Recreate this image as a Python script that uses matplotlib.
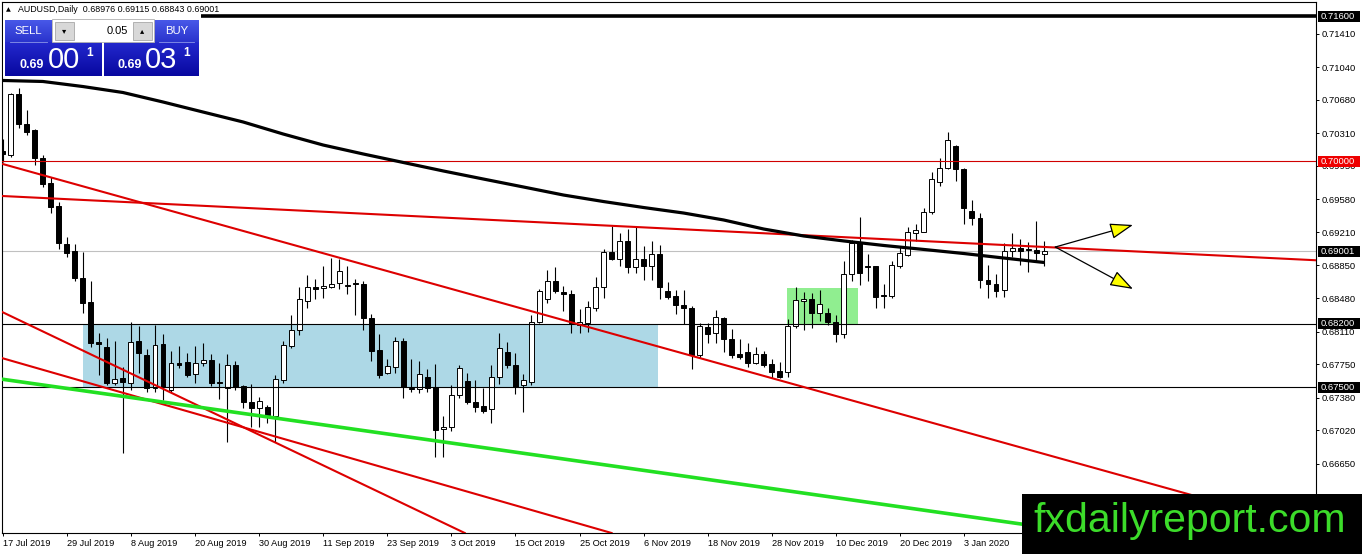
import matplotlib
matplotlib.use("Agg")
import matplotlib.pyplot as plt
import numpy as np
from matplotlib.patches import Rectangle
from matplotlib.transforms import blended_transform_factory
from matplotlib import font_manager

# ---------------- data ----------------
symbol = "AUDUSD,Daily"
bid = 0.69001
ask = 0.69031
lot = "0.05"

date_labels = ["17 Jul 2019", "29 Jul 2019", "8 Aug 2019", "20 Aug 2019", "30 Aug 2019",
               "11 Sep 2019", "23 Sep 2019", "3 Oct 2019", "15 Oct 2019", "25 Oct 2019",
               "6 Nov 2019", "18 Nov 2019", "28 Nov 2019", "10 Dec 2019", "20 Dec 2019",
               "3 Jan 2020"]
label_step = 8

opens = [0.70114, 0.70067, 0.70741, 0.70410, 0.70343, 0.70033, 0.69757, 0.69503, 0.69083, 0.69005,
         0.68706, 0.68441, 0.67999, 0.67943, 0.67545, 0.67600, 0.67545, 0.68010, 0.67855, 0.67490,
         0.67976, 0.67468, 0.67770, 0.67777, 0.67645, 0.67766, 0.67799, 0.67556, 0.67490, 0.67744,
         0.67512, 0.67335, 0.67268, 0.67279, 0.67180, 0.67578, 0.67954, 0.68131, 0.68452, 0.68607,
         0.68596, 0.68607, 0.68651, 0.68618, 0.68651, 0.68640, 0.68264, 0.67910, 0.67656, 0.67722,
         0.68010, 0.67490, 0.67479, 0.67612, 0.67501, 0.67036, 0.67059, 0.67412, 0.67567, 0.67335,
         0.67290, 0.67257, 0.67612, 0.67888, 0.67744, 0.67523, 0.67556, 0.68220, 0.68474, 0.68673,
         0.68552, 0.68529, 0.68186, 0.68209, 0.68374, 0.68607, 0.68994, 0.68916, 0.69116, 0.68828,
         0.68916, 0.68839, 0.68972, 0.68563, 0.68507, 0.68408, 0.68374, 0.67855, 0.68164, 0.68098,
         0.68264, 0.68032, 0.67866, 0.67888, 0.67766, 0.67866, 0.67755, 0.67678, 0.67667, 0.68175,
         0.68452, 0.68474, 0.68319, 0.68319, 0.68220, 0.68087, 0.68750, 0.69094, 0.68839, 0.68839,
         0.68507, 0.68507, 0.68839, 0.68961, 0.69204, 0.69215, 0.69436, 0.69768, 0.69923, 0.70166,
         0.69912, 0.69447, 0.69370, 0.68684, 0.68640, 0.68574, 0.69005, 0.69038, 0.69027, 0.69016,
         0.68976]
highs = [0.70244, 0.70758, 0.70808, 0.70564, 0.70354, 0.70067, 0.69823, 0.69547, 0.69160, 0.69083,
         0.68994, 0.68673, 0.68098, 0.68043, 0.68010, 0.67722, 0.68220, 0.68175, 0.67921, 0.68186,
         0.68087, 0.67899, 0.67954, 0.67877, 0.67954, 0.67987, 0.67866, 0.67766, 0.67866, 0.67788,
         0.67523, 0.67534, 0.67390, 0.67301, 0.67634, 0.68010, 0.68297, 0.68607, 0.68739, 0.68695,
         0.68839, 0.68928, 0.68916, 0.68839, 0.68695, 0.68673, 0.68308, 0.68087, 0.67810, 0.68054,
         0.68043, 0.67810, 0.67788, 0.67700, 0.67755, 0.67180, 0.67523, 0.67744, 0.67656, 0.67578,
         0.67490, 0.67744, 0.68098, 0.67999, 0.67877, 0.67645, 0.68297, 0.68585, 0.68795, 0.68828,
         0.68618, 0.68574, 0.68364, 0.68452, 0.68717, 0.69027, 0.69282, 0.69204, 0.69248, 0.69270,
         0.69060, 0.69116, 0.69071, 0.68662, 0.68574, 0.68574, 0.68397, 0.68209, 0.68209, 0.68352,
         0.68275, 0.68142, 0.68032, 0.67987, 0.67943, 0.67899, 0.67810, 0.67777, 0.68253, 0.68607,
         0.68552, 0.68540, 0.68574, 0.68374, 0.68297, 0.68894, 0.69127, 0.69381, 0.68972, 0.68839,
         0.68640, 0.68894, 0.69049, 0.69270, 0.69303, 0.69480, 0.69879, 0.70034, 0.70321, 0.70177,
         0.69923, 0.69569, 0.69425, 0.68850, 0.68750, 0.69094, 0.69204, 0.69138, 0.69105, 0.69337,
         0.69115]
lows = [0.69989, 0.70045, 0.70365, 0.70288, 0.69956, 0.69713, 0.69425, 0.69027, 0.68939, 0.68673,
        0.68319, 0.67943, 0.67634, 0.67523, 0.67523, 0.66771, 0.67468, 0.67656, 0.67446, 0.67446,
        0.67357, 0.67446, 0.67711, 0.67612, 0.67545, 0.67733, 0.67512, 0.67368, 0.66893, 0.67468,
        0.67268, 0.67059, 0.67059, 0.67103, 0.66893, 0.67545, 0.67932, 0.68076, 0.68374, 0.68474,
        0.68485, 0.68596, 0.68585, 0.68529, 0.68297, 0.68131, 0.67788, 0.67600, 0.67645, 0.67656,
        0.67379, 0.67446, 0.67435, 0.67446, 0.66727, 0.66727, 0.67014, 0.67379, 0.67313, 0.67224,
        0.67213, 0.67103, 0.67534, 0.67711, 0.67423, 0.67224, 0.67523, 0.68209, 0.68430, 0.68540,
        0.68341, 0.68098, 0.68098, 0.68109, 0.68341, 0.68485, 0.68905, 0.68839, 0.68762, 0.68762,
        0.68684, 0.68684, 0.68474, 0.68474, 0.68308, 0.68198, 0.67700, 0.67822, 0.67987, 0.67987,
        0.67888, 0.67822, 0.67810, 0.67722, 0.67755, 0.67722, 0.67600, 0.67600, 0.67612, 0.68153,
        0.68131, 0.68153, 0.68231, 0.68186, 0.67999, 0.68043, 0.68673, 0.68629, 0.68673, 0.68374,
        0.68374, 0.68485, 0.68817, 0.68950, 0.69116, 0.69215, 0.69414, 0.69724, 0.69912, 0.69779,
        0.69303, 0.69292, 0.68596, 0.68485, 0.68496, 0.68496, 0.68939, 0.68850, 0.68773, 0.68894,
        0.68843]
closes = [0.70078, 0.70741, 0.70410, 0.70325, 0.70033, 0.69746, 0.69492, 0.69094, 0.68983, 0.68706,
          0.68430, 0.67987, 0.67976, 0.67545, 0.67589, 0.67556, 0.67999, 0.67877, 0.67490, 0.67965,
          0.67501, 0.67766, 0.67744, 0.67634, 0.67766, 0.67799, 0.67545, 0.67540, 0.67744, 0.67501,
          0.67335, 0.67268, 0.67346, 0.67191, 0.67589, 0.67965, 0.68131, 0.68474, 0.68607, 0.68590,
          0.68618, 0.68640, 0.68784, 0.68629, 0.68645, 0.68264, 0.67899, 0.67634, 0.67733, 0.68010,
          0.67501, 0.67479, 0.67645, 0.67490, 0.67025, 0.67059, 0.67412, 0.67711, 0.67335, 0.67279,
          0.67235, 0.67612, 0.67932, 0.67744, 0.67501, 0.67578, 0.68220, 0.68563, 0.68673, 0.68563,
          0.68529, 0.68209, 0.68220, 0.68386, 0.68607, 0.68994, 0.68916, 0.69116, 0.68828, 0.68916,
          0.68839, 0.68972, 0.68607, 0.68496, 0.68408, 0.68374, 0.67855, 0.68175, 0.68087, 0.68275,
          0.68032, 0.67855, 0.67833, 0.67766, 0.67866, 0.67744, 0.67667, 0.67612, 0.68175, 0.68463,
          0.68474, 0.68319, 0.68419, 0.68220, 0.68087, 0.68750, 0.69094, 0.68762, 0.68828, 0.68496,
          0.68502, 0.68850, 0.68983, 0.69215, 0.69237, 0.69436, 0.69801, 0.69923, 0.70233, 0.69912,
          0.69480, 0.69370, 0.68684, 0.68640, 0.68563, 0.69005, 0.69038, 0.69005, 0.69016, 0.68983,
          0.69001]

ma_bars = [0, 5, 10, 15, 20, 25, 30, 35, 40, 45, 50, 55, 60, 65, 70, 75, 80, 85, 90, 95,
           100, 105, 110, 115, 120, 125, 130]
ma_vals = [0.70891, 0.70880, 0.70824, 0.70758, 0.70653, 0.70542, 0.70432, 0.70299, 0.70177, 0.70078,
           0.69984, 0.69890, 0.69801, 0.69713, 0.69624, 0.69552, 0.69486, 0.69425, 0.69348, 0.69248,
           0.69171, 0.69116, 0.69066, 0.69022, 0.68977, 0.68927, 0.68878]

level_top = 0.71600
level_red = 0.70000
levels_black = [0.68200, 0.67500]

# trend lines: two anchor points (bar, price) each
red_lines = [((0.0, 0.69613), (132.0, 0.69041)),
             ((0.0, 0.69967), (99.53, 0.67512)),
             ((0.0, 0.68327), (33.36, 0.66915)),
             ((0.0, 0.67818), (33.36, 0.66970))]
green_line = ((0.0, 0.67586), (33.36, 0.67166))

zone_blue = (10.0, 81.8, 0.67500, 0.68200)
zone_green = (97.9, 106.8, 0.68187, 0.68599)

arrow_start = (131.4, 0.69049)
arrow_ends = [(141.1, 0.69293), (141.1, 0.68585)]

ytick_vals = [0.71410, 0.71040, 0.70680, 0.70310, 0.69950, 0.69580, 0.69210, 0.68850,
              0.68480, 0.68110, 0.67750, 0.67380, 0.67020, 0.66650, 0.66280]
price_marks = [(0.71600, "black"), (0.70000, "#ee0000"), (0.69001, "black"),
               (0.68200, "black"), (0.67500, "black")]

watermark = "fxdailyreport.com"

# ---------------- figure ----------------
plt.rcParams["font.family"] = ["Liberation Sans", "DejaVu Sans"]
W, H = 1362, 554
fig = plt.figure(figsize=(W / 100, H / 100), dpi=100)
L, R, T, B = 2, 1316, 2, 533
ax = fig.add_axes([L / W, 1 - B / H, (R - L) / W, (B - T) / H])
ax.set_xlim(-0.1, 163.95)
ax.set_ylim(0.65886, 0.71759)

# zones
bx0, bx1, by0, by1 = zone_blue
ax.add_patch(Rectangle((bx0, by0), bx1 - bx0, by1 - by0, fc="#add8e6", ec="none", zorder=1))
gx0, gx1, gy0, gy1 = zone_green
ax.add_patch(Rectangle((gx0, gy0), gx1 - gx0, gy1 - gy0, fc="#90ee90", ec="none", zorder=1))

# bid line
ax.axhline(bid, color="#c0c0c0", lw=0.8, zorder=2)

# candles
x = np.arange(len(opens))
o = np.array(opens); h = np.array(highs); l = np.array(lows); c = np.array(closes)
ax.vlines(x, l, h, color="black", lw=0.8, zorder=3)
bottoms = np.minimum(o, c)
heights = np.maximum(np.abs(c - o), 0.00011)
cols = ["white" if cc > oo else "black" for oo, cc in zip(o, c)]
ax.bar(x, heights, 0.62, bottoms, color=cols, edgecolor="black", linewidth=0.7, zorder=4)

# levels
ax.axhline(level_top, color="black", lw=2.6, zorder=5)
ax.axhline(level_red, color="#d00000", lw=0.8, zorder=5)
for lv in levels_black:
    ax.axhline(lv, color="black", lw=0.8, zorder=5)

# trend lines
for p1, p2 in red_lines:
    ax.axline(p1, p2, color="#dd0000", lw=1.5, zorder=5)
ax.axline(green_line[0], green_line[1], color="#22e022", lw=2.6, zorder=5)

# moving average
ax.plot(ma_bars, ma_vals, color="black", lw=2.3, zorder=6, solid_capstyle="butt")

# arrows
for end in arrow_ends:
    ax.annotate("", xy=end, xytext=arrow_start,
                arrowprops=dict(arrowstyle="-|>,head_length=1.3,head_width=0.45",
                                fc="yellow", ec="black", lw=0.9, mutation_scale=11,
                                shrinkA=0, shrinkB=0), zorder=7)

# axes styling
for s in ax.spines.values():
    s.set_linewidth(0.8)
    s.set_color("black")
ax.yaxis.tick_right()
ax.set_yticks(ytick_vals)
ax.set_yticklabels([f"{v:.5f}" for v in ytick_vals])
ax.tick_params(axis="y", length=2.5, width=0.7, pad=1.5, labelsize=6.8, colors="black")
xt = [i * label_step for i in range(len(date_labels))]
ax.set_xticks(xt)
ax.set_xticklabels(date_labels, ha="left")
ax.tick_params(axis="x", length=2.5, width=0.7, pad=1.5, labelsize=6.6, colors="black")

# highlighted price marks on right axis
bt = blended_transform_factory(ax.transAxes, ax.transData)
axw = R - L
pix_price = (0.71759 - 0.65886) / (B - T)
for val, col in price_marks:
    ax.add_patch(Rectangle((1 + 2 / axw, val - 5.5 * pix_price), 42 / axw, 11 * pix_price,
                           transform=bt, fc=col, ec="none", clip_on=False, zorder=20))
    ax.text(1 + 5 / axw, val, f"{val:.5f}", transform=bt, color="white", fontsize=6.8,
            va="center", ha="left", clip_on=False, zorder=21)

# ---------------- overlay (panel, header, watermark) ----------------
ov = fig.add_axes([0, 0, 1, 1], zorder=10)
ov.set_xlim(0, W)
ov.set_ylim(H, 0)
ov.axis("off")
ov.patch.set_alpha(0)

# header
last = len(opens) - 1
ov.text(6, 10, "\u25B2", fontsize=4.5, va="center", ha="left", family=["DejaVu Sans"])
ov.text(18, 10, f"{symbol}  {opens[last]:.5f} {highs[last]:.5f} {lows[last]:.5f} {closes[last]:.5f}",
        fontsize=6.4, va="center", ha="left")

# white panel background
ov.add_patch(Rectangle((3, 13), 198, 64, fc="white", ec="none"))


def grad_box(x0, y0, x1, y1, top, bottom):
    n = 32
    t = np.linspace(0, 1, n)[:, None]
    arr = (np.array(top)[None, :] * (1 - t) + np.array(bottom)[None, :] * t) / 255.0
    ov.imshow(arr[:, None, :], extent=(x0, x1, y1, y0), aspect="auto", interpolation="bilinear", zorder=2)


lab_top, lab_bot = (72, 88, 232), (42, 52, 205)
pr_top, pr_bot = (35, 40, 205), (8, 8, 160)
grad_box(5, 20, 52, 42, lab_top, lab_bot)
grad_box(154, 20, 199, 42, lab_top, lab_bot)
grad_box(5, 42, 102, 76, pr_top, pr_bot)
grad_box(104, 42, 199, 76, pr_top, pr_bot)
ov.plot([10, 47], [41.5, 41.5], color="#8a95e8", lw=0.6, zorder=3)
ov.plot([159, 194], [41.5, 41.5], color="#8a95e8", lw=0.6, zorder=3)

# lot box
ov.add_patch(Rectangle((52, 19), 102, 23, fc="white", ec="#b0b0b0", lw=0.6, zorder=2))
ov.add_patch(Rectangle((54.5, 21.5), 19, 18.5, fc="#d8d8d8", ec="#a8a8a8", lw=0.6, zorder=3))
ov.add_patch(Rectangle((132.5, 21.5), 19.5, 18.5, fc="#d8d8d8", ec="#a8a8a8", lw=0.6, zorder=3))
ov.text(64, 30.5, "\u25BE", fontsize=6, va="center", ha="center", family=["DejaVu Sans"], zorder=4)
ov.text(142, 30.5, "\u25B4", fontsize=6, va="center", ha="center", family=["DejaVu Sans"], zorder=4)
ov.text(128, 30.5, lot, fontsize=8, va="center", ha="right", zorder=4)

ov.text(28.5, 31, "SELL", fontsize=8.2, color="white", va="center", ha="center", zorder=4)
ov.text(176.5, 31, "BUY", fontsize=8.2, color="white", va="center", ha="center", zorder=4)

for val, xs in [(bid, (20, 48, 86)), (ask, (118, 145, 183))]:
    s = f"{val:.5f}"
    ov.text(xs[0], 68.5, s[:4], fontsize=9, fontweight="bold", color="white",
            va="baseline", ha="left", zorder=4)
    ov.text(xs[1], 68.5, s[4:6], fontsize=21, color="white", va="baseline", ha="left", zorder=4)
    ov.text(xs[2], 55.5, s[6], fontsize=8.5, fontweight="bold", color="white",
            va="baseline", ha="left", zorder=4)

# watermark
ov.add_patch(Rectangle((1022, 494), W - 1022, H - 494, fc="black", ec="none", zorder=5))


def has_font(name):
    try:
        font_manager.findfont(font_manager.FontProperties(family=name), fallback_to_default=False)
        return True
    except Exception:
        return False


if has_font("Liberation Sans Narrow"):
    wm_family, wm_size = ["Liberation Sans Narrow"], 35
else:
    wm_family, wm_size = ["Liberation Sans"], 29.5
ov.text(1190, 521, watermark, fontsize=wm_size, color="#3cdc2a", family=wm_family,
        va="center", ha="center", zorder=6)

fig.savefig("out.png", dpi=100)
